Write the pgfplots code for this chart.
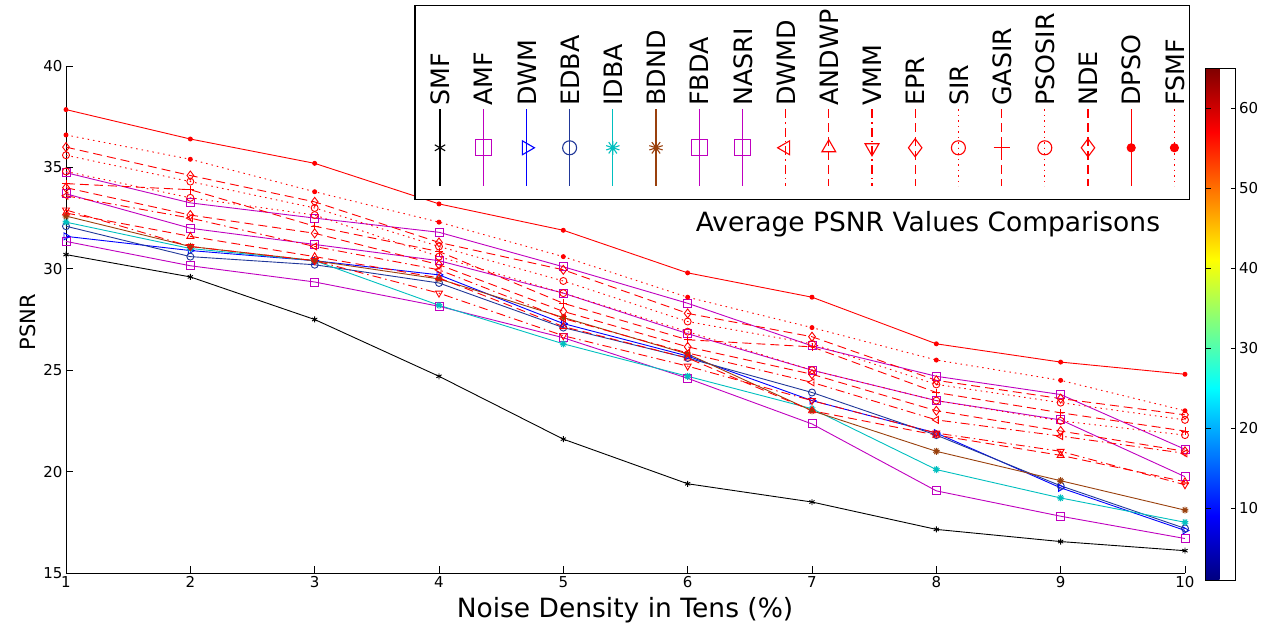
\documentclass[border=0pt]{standalone}
\usepackage{fontspec}
\setmainfont{DejaVu Sans}
\usepackage{pgfplots}
\pgfplotsset{compat=1.18}
\definecolor{cmag}{rgb}{0.75,0,0.75}
\definecolor{cblue}{rgb}{0,0,1}
\definecolor{cnavy}{rgb}{0.13,0.22,0.6}
\definecolor{ccyan}{rgb}{0,0.75,0.75}
\definecolor{cbrown}{rgb}{0.6,0.25,0.05}
\tikzset{
  mdash/.style={dash pattern=on 9pt off 5pt},
  mdot/.style={dash pattern=on 1.5pt off 4pt},
  mdashdot/.style={dash pattern=on 9pt off 4pt on 1.5pt off 4pt},
}
\begin{document}
\begin{tikzpicture}
\begin{axis}[
  at={(0pt,0pt)}, anchor=south west,
  scale only axis, width=1119pt, height=507pt,
  xmin=1, xmax=10, ymin=15, ymax=40,
  xtick={1,...,10}, ytick={15,20,...,40},
  axis x line*=bottom, axis y line*=left,
  axis line style={-, line width=0.8pt},
  tick align=inside, major tick length=7pt,
  tick style={line width=0.8pt, black},
  ticklabel style={font=\fontsize{15}{17}\selectfont, /pgf/number format/assume math mode=true},
  xlabel={Noise Density in Tens (\%)},
  ylabel={PSNR},
  xlabel style={at={(axis description cs:0.4996,-0.073)}, anchor=center, font=\fontsize{26.5}{29}\selectfont},
  ylabel style={at={(axis description cs:-0.034,0.495)}, anchor=center, font=\fontsize{21}{24}\selectfont},
  title={Average PSNR Values Comparisons},
  title style={at={(axis description cs:0.7703,0.6765)}, anchor=center, font=\fontsize{26.5}{29}\selectfont},
  every axis plot/.append style={line width=0.9pt},
  mark size=4pt,
  legend columns=-1,
  legend cell align=left,
  legend image code/.code={%
    \path (0pt,0pt) (0pt,-89pt);
    \draw[overlay, line width=1.1pt, mark repeat=2, mark phase=2, every mark/.append style={scale=2}] plot coordinates {(21.15pt,-1pt) (21.15pt,-39.5pt) (21.15pt,-78pt)};},
  legend style={at={(1.0045,1.1203)}, anchor=north east,
    draw=black, line width=1.3pt, fill=white,
    font=\fontsize{25.3}{27}\selectfont,
    nodes={rotate=90, anchor=west, text height=18.4pt, text depth=0pt, inner sep=2pt},
    column sep=9.95pt, inner xsep=3.3pt, inner ysep=2pt},
  point meta min=1, point meta max=65,
  colormap={matjet}{rgb(0cm)=(0,0,0.5); rgb(1cm)=(0,0,1); rgb(3cm)=(0,1,1); rgb(5cm)=(1,1,0); rgb(7cm)=(1,0,0); rgb(8cm)=(0.5,0,0)},
  colorbar,
  colorbar style={
    at={(parent axis.north east)}, anchor=north west, xshift=12pt, yshift=-2pt,
    scale only axis, width=30pt, height=512pt,
    ytick={10,20,...,60},
    ytick pos=both, yticklabel pos=right,
    tick align=inside, major tick length=5pt,
    tick style={line width=0.8pt, black},
    axis line style={line width=0.8pt},
    yticklabel style={font=\fontsize{15}{17}\selectfont, /pgf/number format/assume math mode=true},
  },
]
% SMF
\addplot[black, mark=asterisk, mark size=3pt] coordinates {(1,30.7)(2,29.6)(3,27.5)(4,24.7)(5,21.6)(6,19.4)(7,18.5)(8,17.15)(9,16.55)(10,16.1)};
\addlegendentry{SMF}
% AMF
\addplot[cmag, mark=square] coordinates {(1,31.35)(2,30.15)(3,29.35)(4,28.15)(5,26.6)(6,24.6)(7,22.35)(8,19.05)(9,17.8)(10,16.7)};
\addlegendentry{AMF}
% DWM
\addplot[cblue, mark=triangle, mark options={rotate=-90}] coordinates {(1,31.6)(2,30.9)(3,30.4)(4,29.7)(5,27.3)(6,25.7)(7,23.5)(8,21.9)(9,19.2)(10,17.1)};
\addlegendentry{DWM}
% EDBA
\addplot[cnavy, mark=o, mark size=3.5pt] coordinates {(1,32.1)(2,30.6)(3,30.2)(4,29.3)(5,27.1)(6,25.6)(7,23.9)(8,21.8)(9,19.3)(10,17.2)};
\addlegendentry{EDBA}
% IDBA
\addplot[ccyan, mark=10-pointed star, mark size=3.5pt] coordinates {(1,32.3)(2,31.0)(3,30.4)(4,28.2)(5,26.3)(6,24.7)(7,23.1)(8,20.1)(9,18.7)(10,17.5)};
\addlegendentry{IDBA}
% BDND
\addplot[cbrown, mark=10-pointed star, mark size=3.5pt] coordinates {(1,32.6)(2,31.1)(3,30.4)(4,29.5)(5,27.6)(6,25.8)(7,23.0)(8,21.0)(9,19.55)(10,18.1)};
\addlegendentry{BDND}
% FBDA
\addplot[cmag, mark=square] coordinates {(1,33.7)(2,32.0)(3,31.2)(4,30.4)(5,28.8)(6,26.8)(7,25.0)(8,23.5)(9,22.55)(10,19.75)};
\addlegendentry{FBDA}
% NASRI
\addplot[cmag, mark=square] coordinates {(1,34.74)(2,33.25)(3,32.5)(4,31.8)(5,30.1)(6,28.3)(7,26.2)(8,24.7)(9,23.8)(10,21.1)};
\addlegendentry{NASRI}
% DWMD
\addplot[red, mdashdot, mark=triangle, mark options={solid, rotate=90}] coordinates {(1,33.6)(2,32.5)(3,31.1)(4,29.95)(5,27.55)(6,25.85)(7,24.4)(8,22.55)(9,21.75)(10,20.9)};
\addlegendentry{DWMD}
% ANDWP
\addplot[red, mdash, mark=triangle, mark options={solid}] coordinates {(1,32.75)(2,31.6)(3,30.6)(4,29.55)(5,27.15)(6,25.6)(7,23.0)(8,21.8)(9,20.8)(10,19.5)};
\addlegendentry{ANDWP}
% VMM
\addplot[red, mdashdot, mark=triangle, mark options={solid, rotate=180}] coordinates {(1,32.9)(2,31.1)(3,30.4)(4,28.8)(5,26.7)(6,25.2)(7,23.5)(8,21.9)(9,21.0)(10,19.35)};
\addlegendentry{VMM}
% EPR
\addplot[red, mdash, mark=diamond, mark options={solid}, mark size=4.5pt] coordinates {(1,34.0)(2,32.65)(3,31.75)(4,30.2)(5,27.9)(6,26.15)(7,24.8)(8,23.0)(9,22.0)(10,21.0)};
\addlegendentry{EPR}
% SIR
\addplot[red, mdot, mark=o, mark options={solid}, mark size=3.5pt] coordinates {(1,34.8)(2,33.5)(3,32.65)(4,30.6)(5,28.8)(6,26.9)(7,25.0)(8,23.5)(9,22.5)(10,21.8)};
\addlegendentry{SIR}
% GASIR
\addplot[red, mdash, mark=+, mark options={solid}] coordinates {(1,34.2)(2,33.9)(3,32.1)(4,30.85)(5,28.3)(6,26.5)(7,26.15)(8,23.9)(9,22.9)(10,22.0)};
\addlegendentry{GASIR}
% PSOSIR
\addplot[red, mdot, mark=o, mark options={solid}, mark size=3.5pt] coordinates {(1,35.6)(2,34.3)(3,33.0)(4,31.1)(5,29.4)(6,27.4)(7,26.3)(8,24.3)(9,23.4)(10,22.55)};
\addlegendentry{PSOSIR}
% NDE
\addplot[red, mdash, mark=diamond, mark options={solid}, mark size=4.5pt] coordinates {(1,36.0)(2,34.6)(3,33.3)(4,31.3)(5,29.95)(6,27.8)(7,26.65)(8,24.5)(9,23.6)(10,22.8)};
\addlegendentry{NDE}
% DPSO
\addplot[red, mark=*, mark size=2pt] coordinates {(1,37.85)(2,36.4)(3,35.2)(4,33.2)(5,31.9)(6,29.8)(7,28.6)(8,26.3)(9,25.4)(10,24.8)};
\addlegendentry{DPSO}
% FSMF
\addplot[red, mdot, mark=*, mark options={solid}, mark size=2pt] coordinates {(1,36.6)(2,35.4)(3,33.8)(4,32.3)(5,30.6)(6,28.6)(7,27.1)(8,25.5)(9,24.5)(10,23.0)};
\addlegendentry{FSMF}
\end{axis}
\pgfresetboundingbox
\path[use as bounding box] (-66pt,-56pt) rectangle (1197pt,573pt);
\end{tikzpicture}
\end{document}
